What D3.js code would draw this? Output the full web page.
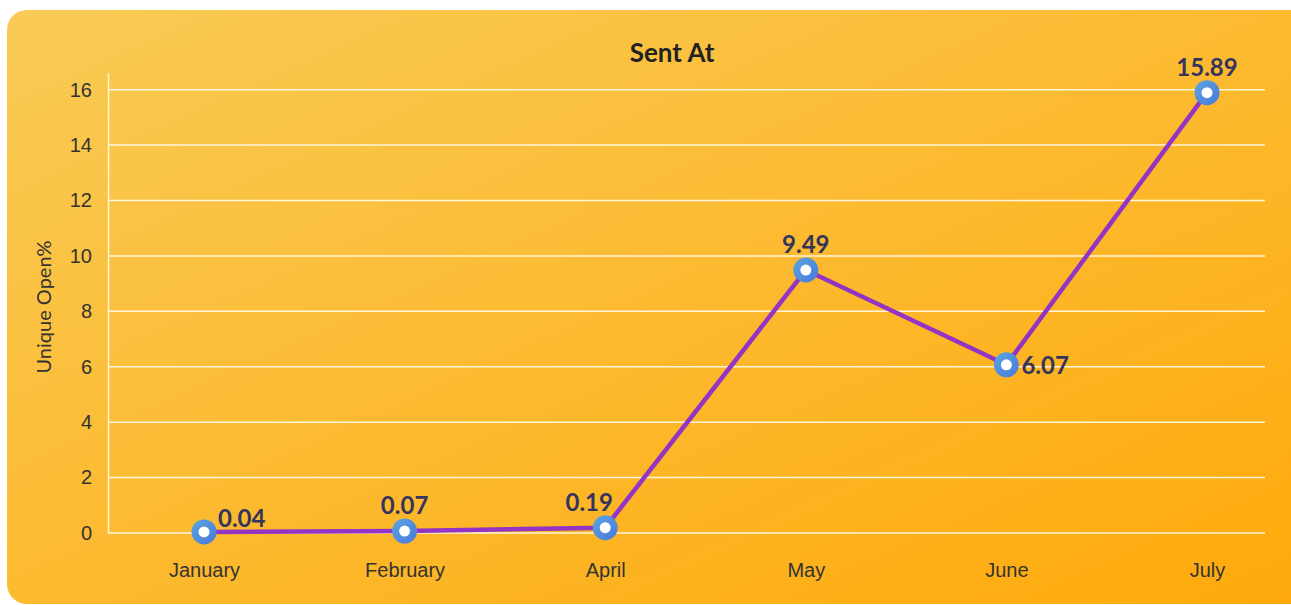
<!DOCTYPE html>
<html>
<head>
<meta charset="utf-8">
<script src="https://cdn.jsdelivr.net/npm/d3@7"></script>
<style>
  body { margin: 0; background: #fff; }
  svg { display: block; font-family: Lato, "Open Sans", sans-serif; }
</style>
</head>
<body>
<div id="chart"></div>
<script>
const months = ["January", "February", "April", "May", "June", "July"];
const openRate = [0.04, 0.07, 0.19, 9.49, 6.07, 15.89];
const yTicks = [0, 2, 4, 6, 8, 10, 12, 14, 16];
// where each value label sits relative to its point
const labelSide = ["upright", "top", "topleft", "top", "right", "top"];

const W = 1291, H = 605;

const svg = d3.select("#chart").append("svg")
    .attr("width", W)
    .attr("height", H);

const defs = svg.append("defs");

// card background
const bg = defs.append("linearGradient")
    .attr("id", "bg")
    .attr("x1", "0%").attr("y1", "0%")
    .attr("x2", "100%").attr("y2", "100%");
bg.append("stop").attr("offset", "0%").attr("stop-color", "#f9cb56");
bg.append("stop").attr("offset", "100%").attr("stop-color", "#ffa90a");

const dot = defs.append("linearGradient")
    .attr("id", "dot")
    .attr("x1", "0%").attr("y1", "0%")
    .attr("x2", "100%").attr("y2", "100%");
dot.append("stop").attr("offset", "0%").attr("stop-color", "#5aa6e0");
dot.append("stop").attr("offset", "100%").attr("stop-color", "#4a78dc");

svg.append("rect")
    .attr("x", 7).attr("y", 10)
    .attr("width", W + 30).attr("height", 594)
    .attr("rx", 20)
    .attr("fill", "url(#bg)");

const x = d3.scalePoint()
    .domain(months)
    .range([204, 1207]);

const y = d3.scaleLinear()
    .domain([0, 16.6])
    .range([533, 73]);

const left = 108, right = 1265;

// grid lines
svg.append("g")
    .selectAll("line")
    .data(yTicks)
    .join("line")
    .attr("x1", left)
    .attr("x2", right)
    .attr("y1", d => y(d))
    .attr("y2", d => y(d))
    .attr("stroke", "#fff6dc")
    .attr("stroke-width", 1.5);

// y axis
const yAxis = svg.append("g")
    .attr("transform", `translate(${left},0)`)
    .call(d3.axisLeft(y).tickValues(yTicks).tickSize(0).tickPadding(16));
yAxis.select(".domain").attr("stroke", "#fff6dc").attr("stroke-width", 1.5);
yAxis.selectAll("text")
    .attr("font-size", 20)
    .attr("fill", "#333");

// x axis labels
const xAxis = svg.append("g")
    .attr("transform", "translate(0,533)")
    .call(d3.axisBottom(x).tickSize(0).tickPadding(30));
xAxis.select(".domain").remove();
xAxis.selectAll("text")
    .attr("font-size", 20)
    .attr("fill", "#333");

// axis title
svg.append("text")
    .attr("transform", "translate(51,307) rotate(-90)")
    .attr("text-anchor", "middle")
    .attr("font-size", 20)
    .attr("fill", "#333")
    .text("Unique Open%");

// chart title
svg.append("text")
    .attr("x", 672)
    .attr("y", 62)
    .attr("text-anchor", "middle")
    .attr("font-size", 26)
    .attr("font-weight", 700)
    .attr("fill", "#222")
    .text("Sent At");

const pts = months.map((m, i) => ({ m, v: openRate[i], side: labelSide[i] }));

// line
svg.append("path")
    .datum(pts)
    .attr("fill", "none")
    .attr("stroke", "#9334c4")
    .attr("stroke-width", 4.5)
    .attr("d", d3.line().x(d => x(d.m)).y(d => y(d.v)));

// markers
const mk = svg.append("g")
    .selectAll("g")
    .data(pts)
    .join("g")
    .attr("transform", d => `translate(${x(d.m)},${y(d.v)})`);
mk.append("circle").attr("r", 12.5).attr("fill", "url(#dot)");
mk.append("circle").attr("r", 5.5).attr("fill", "#fff");

// value labels
const lx = { right: 15, upright: 14, top: 0, topleft: -16 };
const ly = { right: 9, upright: -5, top: -17, topleft: -17 };
mk.append("text")
    .attr("x", d => lx[d.side])
    .attr("y", d => ly[d.side])
    .attr("text-anchor", d => d.side === "right" || d.side === "upright" ? "start" : "middle")
    .attr("font-size", 24)
    .attr("font-weight", 700)
    .attr("fill", "#35345c")
    .text(d => d.v.toFixed(2));
</script>
</body>
</html>
